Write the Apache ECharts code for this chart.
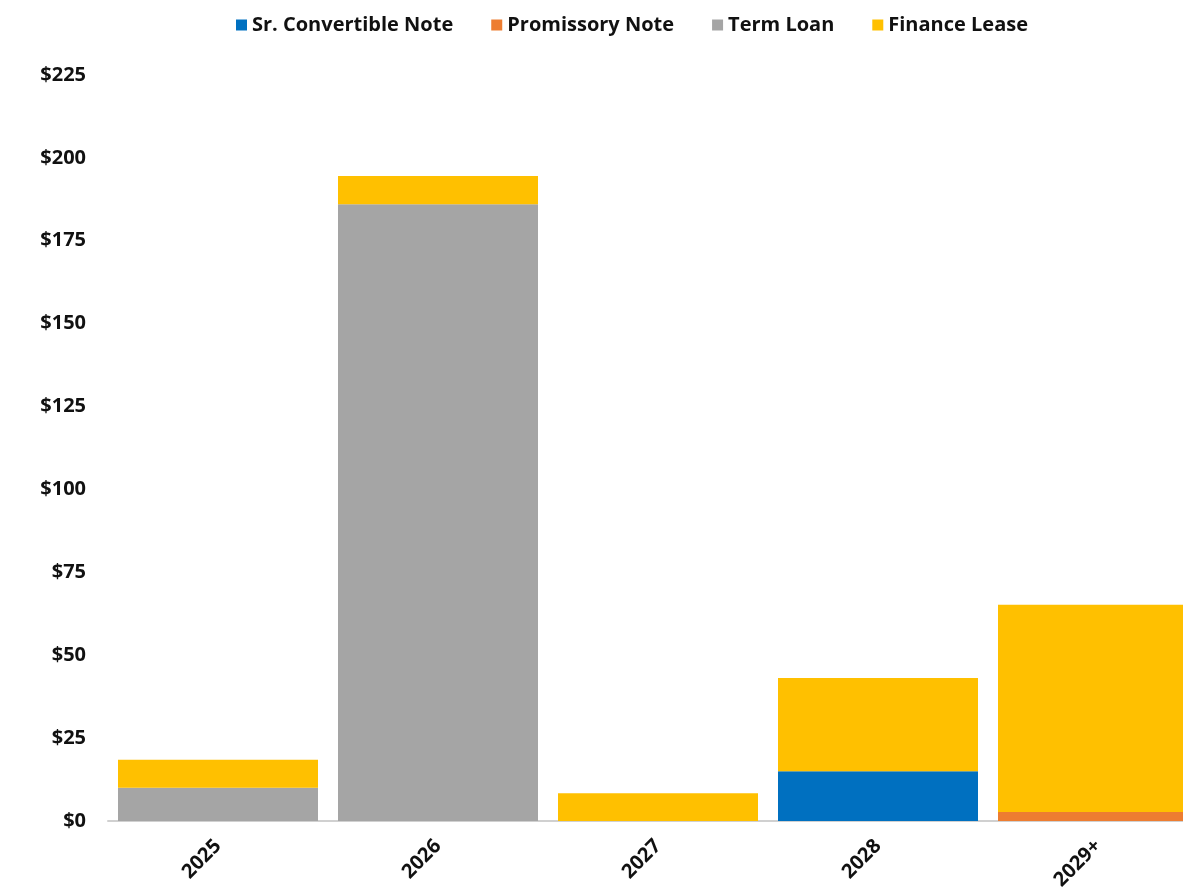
<!DOCTYPE html>
<html><head><meta charset="utf-8">
<script src="https://cdn.jsdelivr.net/npm/echarts@6/dist/echarts.min.js"></script>
<style>html,body{margin:0;padding:0;background:#fff}#c{width:1183px;height:893px}</style>
</head><body><div id="c"></div>
<script>
const categories = ['2025', '2026', '2027', '2028', '2029+'];
const srConvertibleNote = [0, 0, 0, 15, 0];
const promissoryNote = [0, 0, 0, 0, 2.7];
const termLoan = [10, 186, 0, 0, 0];
const financeLease = [8.5, 8.5, 8.4, 28.1, 62.5];
const yTicks = [0, 25, 50, 75, 100, 125, 150, 175, 200, 225];

const FONT = '"Open Sans", "Noto Sans", sans-serif';
const chart = echarts.init(document.getElementById('c'), null, {renderer: 'canvas'});
const mk = (name, data, color) => ({
  name, type: 'bar', stack: 'total', data, barWidth: 200,
  itemStyle: {color}, emphasis: {disabled: true}
});
chart.setOption({
  animation: false,
  backgroundColor: '#fff',
  legend: {
    top: 10, left: 231, itemWidth: 11, itemHeight: 11, itemGap: 38, icon: 'rect',
    textStyle: {fontFamily: FONT, fontWeight: 'bold', fontSize: 20, color: '#111'}
  },
  grid: {left: 108, width: 1100, top: 75, bottom: 72, containLabel: false, outerBoundsMode: 'none'},
  xAxis: {
    type: 'category', data: categories,
    axisLine: {lineStyle: {color: '#d0d0d0', width: 2}},
    axisTick: {show: false},
    axisLabel: {rotate: 45, margin: 22, fontFamily: FONT, fontWeight: 'bold', fontSize: 20, color: '#111'}
  },
  yAxis: {
    type: 'value', min: yTicks[0], max: yTicks[yTicks.length - 1], interval: 25,
    splitLine: {show: false}, axisLine: {show: false}, axisTick: {show: false},
    axisLabel: {margin: 22, fontFamily: FONT, fontWeight: 'bold', fontSize: 20, color: '#111',
      formatter: v => '$' + v}
  },
  series: [
    mk('Sr. Convertible Note', srConvertibleNote, '#0070C0'),
    mk('Promissory Note', promissoryNote, '#ED7D31'),
    mk('Term Loan', termLoan, '#A5A5A5'),
    mk('Finance Lease', financeLease, '#FFC000')
  ]
});
</script></body></html>
